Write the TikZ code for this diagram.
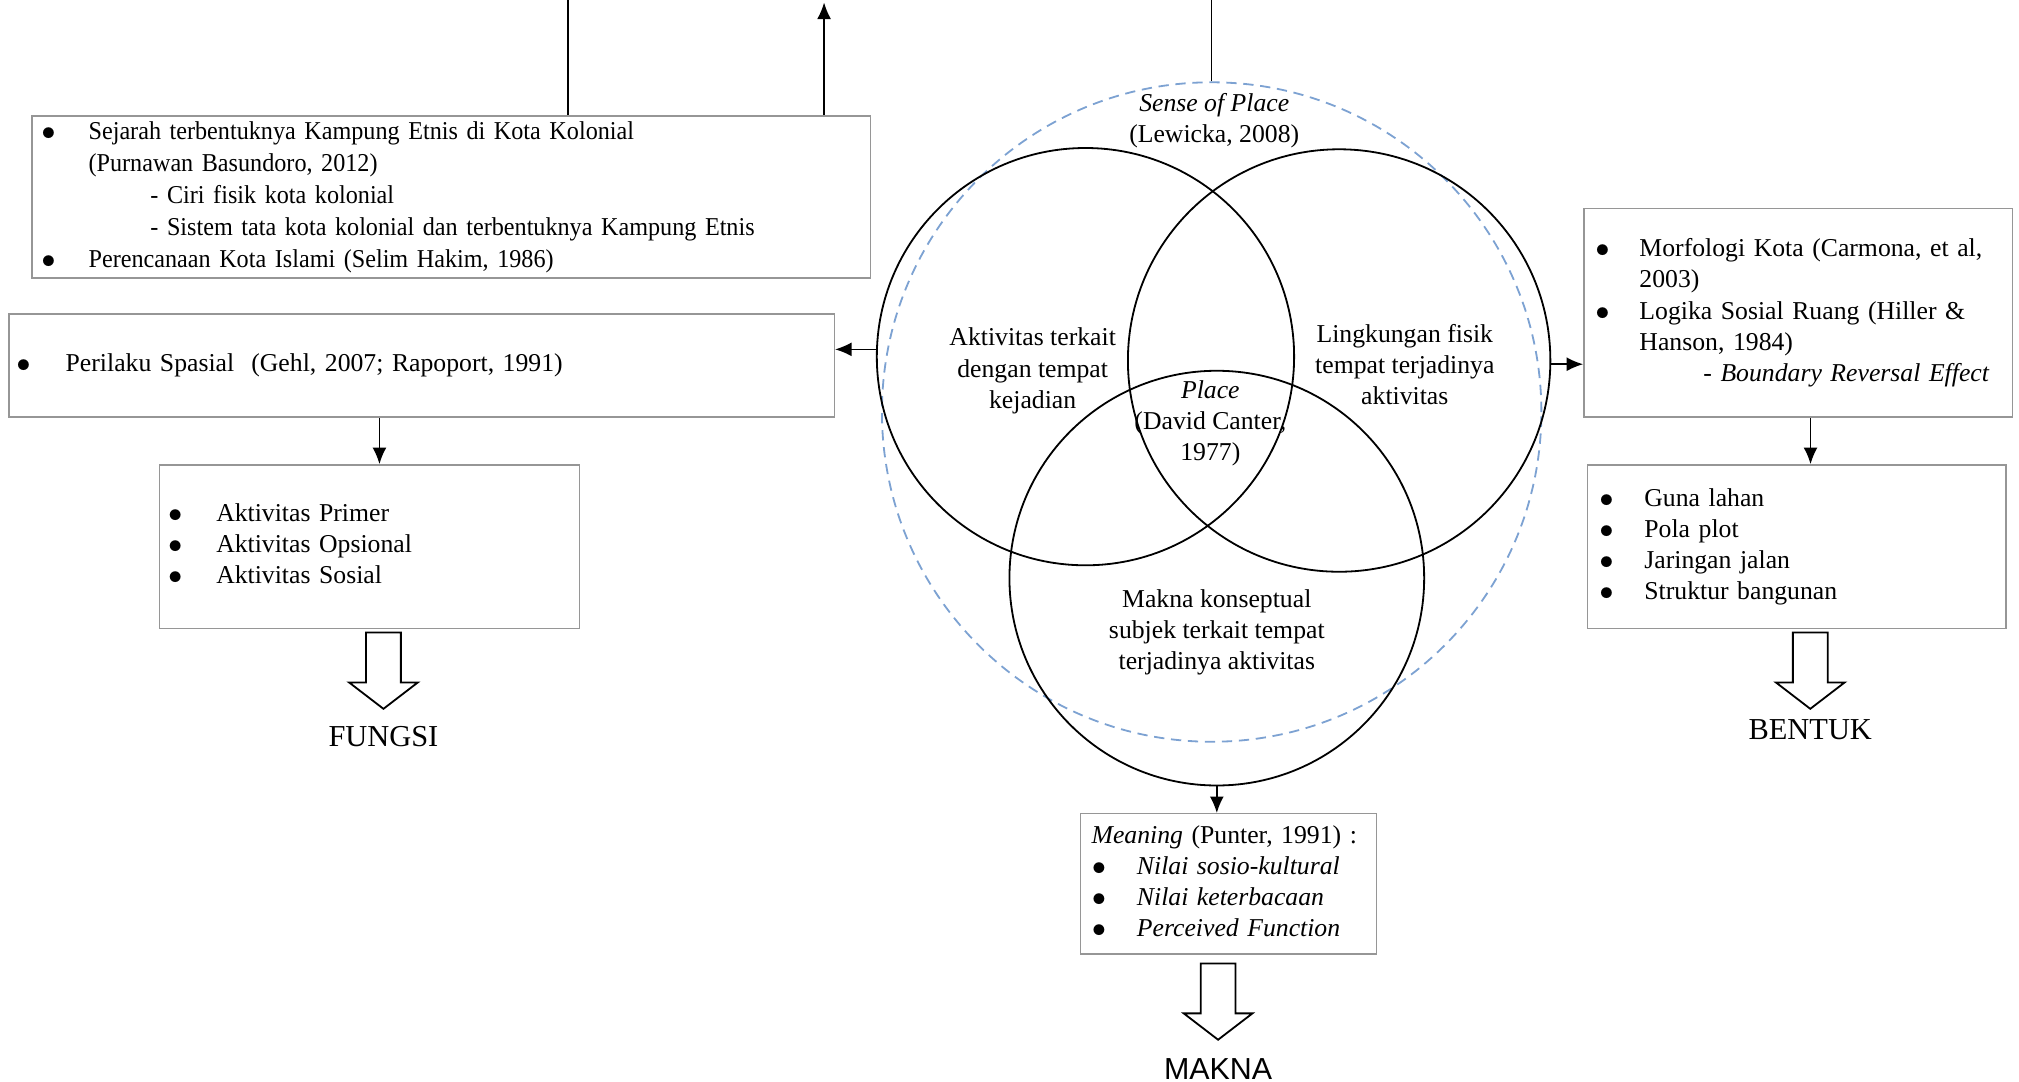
\documentclass[tikz,border=0pt]{standalone}
\usepackage{fontspec}
\setmainfont{Liberation Serif}
\newfontfamily\narrowserif[FakeStretch=0.94]{Liberation Serif}
\newfontfamily\arialfont{Liberation Sans}
\usepackage{tikz}
\usetikzlibrary{positioning}
\usetikzlibrary{shapes.arrows,arrows.meta}
\definecolor{boxgray}{RGB}{150,150,150}
\definecolor{sopblue}{RGB}{125,162,210}

\begin{document}
\begin{tikzpicture}[x=0.0125cm, y=-0.0125cm,
        font=\fontsize{7.1}{8.6}\selectfont,
        >={Latex[length=1.6mm,width=1.35mm]},
        box/.style = {draw=boxgray, line width=0.4pt, rectangle, inner sep=0pt, align=left},
        ring/.style = {draw, circle, line width=0.5pt, inner sep=0pt},
        sopring/.style = {draw=sopblue, circle, line width=0.5pt, inner sep=0pt, dash pattern=on 0.1cm off 0.065cm},
        bigarrow/.style = {draw, line width=0.5pt, single arrow, shape border rotate=270, anchor=tail, inner sep=0.16cm,
          minimum height=0.74cm, single arrow head extend=0.165cm, single arrow tip angle=105},
        result/.style = {font=\fontsize{8.4}{10}\selectfont, inner sep=0pt}
        ]
        \useasboundingbox (0,0) rectangle (1568,840);

        % boxes on the left
        \node (sejarah) [box, text width=8.14cm, minimum height=1.575cm] at (350.5,153) {%
          \narrowserif\fontsize{7.1}{8.8}\selectfont
          \begin{tabular}{@{\hspace{0.09cm}}p{0.46cm}@{}l@{}}
          $\bullet$ & Sejarah terbentuknya Kampung Etnis di Kota Kolonial\\
                    & (Purnawan Basundoro, 2012)\\
                    & \hspace{0.6cm}- Ciri fisik kota kolonial\\
                    & \hspace{0.6cm}- Sistem tata kota kolonial dan terbentuknya Kampung Etnis\\
          $\bullet$ & Perencanaan Kota Islami (Selim Hakim, 1986)
          \end{tabular}};
        \node (perilaku) [box, text width=8.01cm, minimum height=1.0cm] at (327.5,284) {%
          \begin{tabular}{@{\hspace{0.07cm}}p{0.48cm}@{}l@{}}
          $\bullet$ & Perilaku Spasial~ (Gehl, 2007; Rapoport, 1991)
          \end{tabular}};
        \node (aktivitas) [box, text width=4.075cm, minimum height=1.5875cm] at (287,424.5) {%
          \begin{tabular}{@{\hspace{0.08cm}}p{0.47cm}@{}l@{}}
          $\bullet$ & Aktivitas Primer\\
          $\bullet$ & Aktivitas Opsional\\
          $\bullet$ & Aktivitas Sosial
          \end{tabular}};

        % boxes on the right
        \node (morf) [box, text width=4.16cm, minimum height=2.025cm] at (1396.5,243) {%
          \begin{tabular}{@{\hspace{0.11cm}}p{0.43cm}@{}l@{}}
          $\bullet$ & Morfologi Kota (Carmona, et al,\\
                    & 2003)\\
          $\bullet$ & Logika Sosial Ruang (Hiller \&\\
                    & Hanson, 1984)\\
                    & \hspace{0.62cm}- \textit{Boundary Reversal Effect}
          \end{tabular}};
        \node (guna) [box, text width=4.06cm, minimum height=1.5875cm] at (1395.5,424.5) {%
          \begin{tabular}{@{\hspace{0.11cm}}p{0.44cm}@{}l@{}}
          $\bullet$ & Guna lahan\\
          $\bullet$ & Pola plot\\
          $\bullet$ & Jaringan jalan\\
          $\bullet$ & Struktur bangunan
          \end{tabular}};

        % box below
        \node (meaning) [box, text width=2.875cm, minimum height=1.3625cm] at (954,686.5) {%
          \begin{tabular}{@{\hspace{0.11cm}}p{0.44cm}@{}l@{}}
          \multicolumn{2}{@{\hspace{0.11cm}}l@{}}{\textit{Meaning} (Punter, 1991) :}\\
          $\bullet$ & \textit{Nilai sosio-kultural}\\
          $\bullet$ & \textit{Nilai keterbacaan}\\
          $\bullet$ & \textit{Perceived Function}
          \end{tabular}};

        % venn
        \node (sop) [sopring, minimum size=6.4cm] at (941,320) {};
        \node (lcirc) [ring, minimum size=4.05cm] at (843,277) {};
        \node (rcirc) [ring, minimum size=4.1cm] at (1040,280) {};
        \node (bcirc) [ring, minimum size=4.025cm] at (945,449) {};
        \node (soptext) [align=center] at (943,93.5) {\textit{Sense of Place}\\(Lewicka, 2008)};
        \node (ltext) [align=center] at (802,288) {Aktivitas terkait\\dengan tempat\\kejadian};
        \node (rtext) [align=center] at (1091,283) {Lingkungan fisik\\tempat terjadinya\\aktivitas};
        \node (ptext) [align=center] at (940,329) {\textit{Place}\\(David Canter,\\1977)};
        \node (btext) [align=center] at (945,491) {Makna konseptual\\subjek terkait tempat\\terjadinya aktivitas};

        % lines out of the top
        \coordinate (topa) at (441,0);
        \coordinate (topb) at (640,2);
        \coordinate (topc) at (941,0);
        \draw (sejarah.north -| topa) -- (topa);
        \draw[->] (sejarah.north -| topb) -- (topb);
        \draw (sop.north) -- (topc);

        \draw[->] (lcirc.178) -- (lcirc.178 -| perilaku.east);
        \draw[->] (rcirc.359) -- (rcirc.359 -| morf.west);
        \draw[->] (bcirc.south) -- (bcirc.south |- meaning.north);
        \draw[->] ([xshift=-0.41cm]perilaku.south) -- ([xshift=-0.41cm]perilaku.south |- aktivitas.north);
        \draw[->] ([xshift=0.12cm]morf.south) -- ([xshift=0.12cm]morf.south |- guna.north);

        % results
        \node (fungsiarr) [bigarrow] at ([xshift=0.135cm,yshift=-0.025cm]aktivitas.south) {};
        \node (fungsi) [result, below=0.15cm of fungsiarr.tip] {FUNGSI};
        \node (bentukarr) [bigarrow] at ([xshift=0.13cm,yshift=-0.025cm]guna.south) {};
        \node (bentuk) [result, below=0.09cm of bentukarr.tip] {BENTUK};
        \node (maknaarr) [bigarrow] at ([xshift=-0.1cm,yshift=-0.075cm]meaning.south) {};
        \node (makna) [result, font=\arialfont\fontsize{8.4}{10}\selectfont, below=0.16cm of maknaarr.tip] {MAKNA};
\end{tikzpicture}
\end{document}
